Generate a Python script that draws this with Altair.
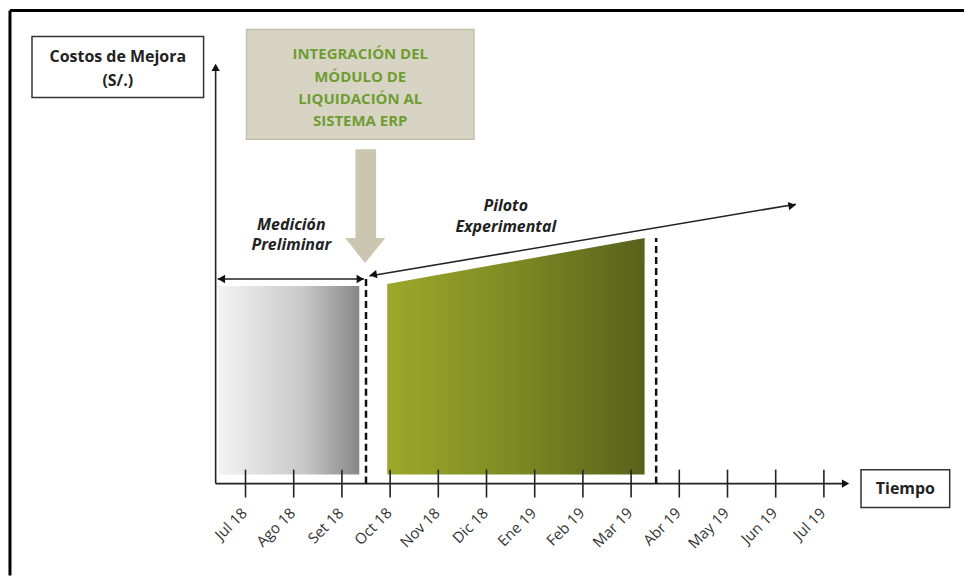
import altair as alt
import pandas as pd

# ---------------- data (x in months from Jul 18, y in cost units) ----------------
months = ["Jul 18", "Ago 18", "Set 18", "Oct 18", "Nov 18", "Dic 18", "Ene 19",
          "Feb 19", "Mar 19", "Abr 19", "May 19", "Jun 19", "Jul 19"]
month_idx = list(range(len(months)))

XD = [-4.928, 14.907]
YD = [-92, 475]

# phases
grey_x = [-0.56, 2.36]
grey_y = [9, 198]
green_x = [2.94, 8.28]
green_top = [200, 246]
green_base = 9
dash_x = [2.50, 8.52]
dash_top = [206, 246]

# axes
yaxis_x = -0.62
yaxis_top = 417
xaxis_end = 12.45
tick_half = 14

# arrows
med_arrow_x = [-0.58, 2.46]
med_arrow_y = 205
pil_arrow_x = [2.57, 11.42]
pil_arrow_y = [208, 280]

# boxes
costos_box = dict(x=-4.43, x2=-0.87, y=448, y2=387)
integ_box = dict(x=0.02, x2=4.74, y=455, y2=345)
tiempo_box = dict(x=12.77, x2=14.61, y=14, y2=-24)

# down block arrow
shaft = dict(x=2.28, x2=2.71, y=335, y2=246)
head_x = [2.07, 2.48, 2.90]
head_y = [246, 246, 246]
head_y2 = [246, 221, 246]

# texts
costos_lines = ["Costos de Mejora", "(S/.)"]
costos_y = [427, 403]
integ_lines = ["INTEGRACIÓN DEL", "MÓDULO DE", "LIQUIDACIÓN AL", "SISTEMA ERP"]
integ_y = [430, 407, 385, 363]
med_lines = ["Medición", "Preliminar"]
med_y = [259, 239]
pil_lines = ["Piloto", "Experimental"]
pil_y = [278, 257]

FONT = "Open Sans"

def X(f="x"):
    return alt.X(f"{f}:Q", scale=alt.Scale(domain=XD, nice=False, zero=False), axis=None)

def Y(f="y"):
    return alt.Y(f"{f}:Q", scale=alt.Scale(domain=YD, nice=False, zero=False), axis=None)

layers = []

# outer frame (left and top edges)
frame = pd.DataFrame([
    dict(x=-4.887, x2=-4.887, y=474, y2=-92),
    dict(x=-4.887, x2=14.907, y=474, y2=474),
])
layers.append(alt.Chart(frame).mark_rule(color="black", strokeWidth=3).encode(
    x=X(), x2="x2", y=Y(), y2="y2"))

# integration box
layers.append(alt.Chart(pd.DataFrame([integ_box])).mark_rect(
    fill="#d8d4c3", stroke="#c4bfac", strokeWidth=1.5).encode(x=X(), x2="x2", y=Y(), y2="y2"))
cx = (integ_box["x"] + integ_box["x2"]) / 2
layers.append(alt.Chart(pd.DataFrame({"x": [cx] * 4, "y": integ_y, "t": integ_lines})).mark_text(
    font=FONT, fontSize=15, fontWeight="bold", color="#6f9c34", baseline="middle").encode(x=X(), y=Y(), text="t"))

# down block arrow
layers.append(alt.Chart(pd.DataFrame([shaft])).mark_rect(fill="#cbc6b1").encode(
    x=X(), x2="x2", y=Y(), y2="y2"))
layers.append(alt.Chart(pd.DataFrame({"x": head_x, "y": head_y, "y2": head_y2})).mark_area(
    fill="#cbc6b1").encode(x=X(), y=Y(), y2="y2"))

# costos box
layers.append(alt.Chart(pd.DataFrame([costos_box])).mark_rect(
    fill="white", stroke="#333333", strokeWidth=1.5).encode(x=X(), x2="x2", y=Y(), y2="y2"))
ccx = (costos_box["x"] + costos_box["x2"]) / 2
layers.append(alt.Chart(pd.DataFrame({"x": [ccx] * 2, "y": costos_y, "t": costos_lines})).mark_text(
    font=FONT, fontSize=16, fontWeight="bold", color="#222222", baseline="middle").encode(x=X(), y=Y(), text="t"))

# grey phase (gradient)
grey_grad = alt.Gradient(gradient="linear",
                         stops=[alt.GradientStop(color="#f3f3f3", offset=0),
                                alt.GradientStop(color="#c9c9c9", offset=0.6),
                                alt.GradientStop(color="#878787", offset=1)],
                         x1=0, x2=1, y1=0, y2=0)
layers.append(alt.Chart(pd.DataFrame([dict(x=grey_x[0], x2=grey_x[1], y=grey_y[1], y2=grey_y[0])]))
              .mark_rect(fill=grey_grad).encode(x=X(), x2="x2", y=Y(), y2="y2"))

# green phase (gradient trapezoid)
green_grad = alt.Gradient(gradient="linear",
                          stops=[alt.GradientStop(color="#9ca82a", offset=0),
                                 alt.GradientStop(color="#7c8a24", offset=0.5),
                                 alt.GradientStop(color="#58621b", offset=1)],
                          x1=0, x2=1, y1=0, y2=0)
layers.append(alt.Chart(pd.DataFrame({"x": green_x, "y": green_top, "y2": [green_base] * 2}))
              .mark_area(fill=green_grad).encode(x=X(), y=Y(), y2="y2"))

# axes
axes = pd.DataFrame([
    dict(x=yaxis_x, x2=yaxis_x, y=0, y2=yaxis_top),
    dict(x=yaxis_x, x2=xaxis_end, y=0, y2=0),
])
layers.append(alt.Chart(axes).mark_rule(color="#222222", strokeWidth=1.6).encode(
    x=X(), x2="x2", y=Y(), y2="y2"))

# ticks
ticks = pd.DataFrame({"x": month_idx, "y": [tick_half] * len(months), "y2": [-tick_half] * len(months)})
layers.append(alt.Chart(ticks).mark_rule(color="#222222", strokeWidth=1.6).encode(
    x=X(), y=Y(), y2="y2"))

# dashed separators
dashes = pd.DataFrame({"x": dash_x, "y": [0, 0], "y2": dash_top})
layers.append(alt.Chart(dashes).mark_rule(color="#111111", strokeWidth=2.5, strokeDash=[7, 4]).encode(
    x=X(), y=Y(), y2="y2"))

# arrow lines
arrows = pd.DataFrame([
    dict(x=med_arrow_x[0], x2=med_arrow_x[1], y=med_arrow_y, y2=med_arrow_y),
    dict(x=pil_arrow_x[0], x2=pil_arrow_x[1], y=pil_arrow_y[0], y2=pil_arrow_y[1]),
])
layers.append(alt.Chart(arrows).mark_rule(color="#222222", strokeWidth=1.6).encode(
    x=X(), x2="x2", y=Y(), y2="y2"))

# arrow heads
heads = pd.DataFrame([
    dict(x=yaxis_x, y=yaxis_top, s="triangle-up", a=0),
    dict(x=xaxis_end, y=0, s="triangle-right", a=0),
    dict(x=med_arrow_x[0] + 0.08, y=med_arrow_y, s="triangle-left", a=0),
    dict(x=med_arrow_x[1] - 0.08, y=med_arrow_y, s="triangle-right", a=0),
    dict(x=pil_arrow_x[0] + 0.08, y=pil_arrow_y[0] + 1.3, s="triangle-left", a=350.5),
    dict(x=pil_arrow_x[1] - 0.08, y=pil_arrow_y[1] - 1.3, s="triangle-right", a=350.5),
])
layers.append(alt.Chart(heads).mark_point(filled=True, color="#111111", size=70, opacity=1).encode(
    x=X(), y=Y(), shape=alt.Shape("s:N", scale=None), angle=alt.Angle("a:Q", scale=None)))

# phase labels
mx = sum(grey_x) / 2
layers.append(alt.Chart(pd.DataFrame({"x": [mx + 0.05] * 2, "y": med_y, "t": med_lines})).mark_text(
    font=FONT, fontSize=16, fontWeight="bold", fontStyle="italic", color="#222222", baseline="middle").encode(
    x=X(), y=Y(), text="t"))
layers.append(alt.Chart(pd.DataFrame({"x": [5.40] * 2, "y": pil_y, "t": pil_lines})).mark_text(
    font=FONT, fontSize=16, fontWeight="bold", fontStyle="italic", color="#222222", baseline="middle").encode(
    x=X(), y=Y(), text="t"))

# month labels
labels = pd.DataFrame({"x": [m - 0.02 for m in month_idx], "y": [-27] * len(months), "t": months})
layers.append(alt.Chart(labels).mark_text(
    font=FONT, fontSize=15, angle=315, align="right", baseline="middle", color="#333333").encode(
    x=X(), y=Y(), text="t"))

# tiempo box
layers.append(alt.Chart(pd.DataFrame([tiempo_box])).mark_rect(
    fill="white", stroke="#333333", strokeWidth=1.5).encode(x=X(), x2="x2", y=Y(), y2="y2"))
tx = (tiempo_box["x"] + tiempo_box["x2"]) / 2
ty = (tiempo_box["y"] + tiempo_box["y2"]) / 2
layers.append(alt.Chart(pd.DataFrame({"x": [tx], "y": [ty], "t": ["Tiempo"]})).mark_text(
    font=FONT, fontSize=16, fontWeight="bold", color="#222222", baseline="middle").encode(
    x=X(), y=Y(), text="t"))

chart = alt.layer(*layers).properties(
    width=958, height=567, padding=0
).configure_view(stroke=None)

chart.save("out.html", embed_options={"renderer": "svg", "actions": False})
